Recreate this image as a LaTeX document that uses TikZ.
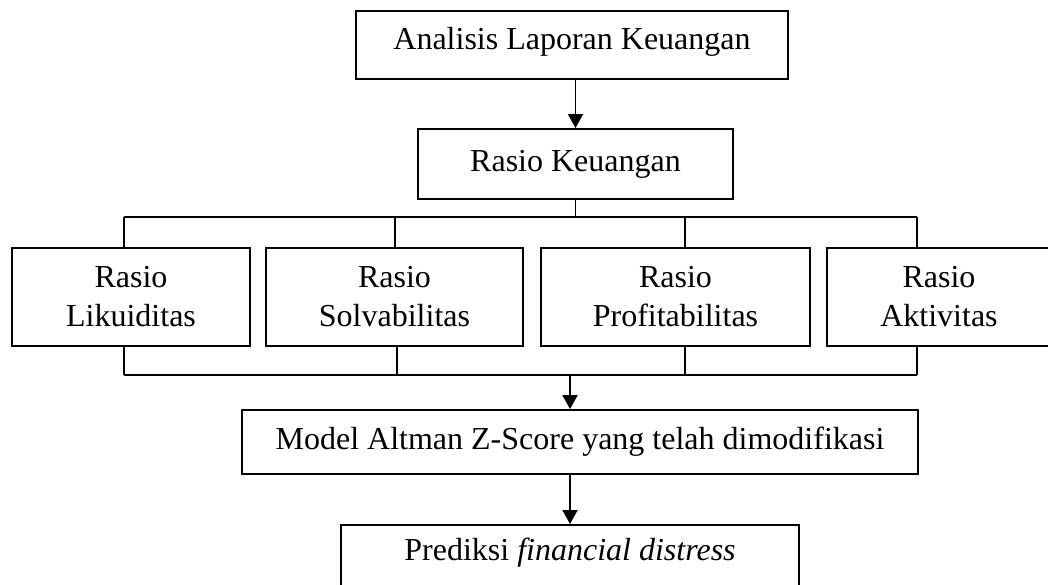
\documentclass[tikz,border=0pt]{standalone}
\usepackage{fontspec}
\setmainfont{Liberation Serif}
\usetikzlibrary{arrows.meta}
\begin{document}
\begin{tikzpicture}[x=1pt,y=-1pt,
  box/.style={draw, line width=1.9pt, inner sep=0pt, align=center,
    font=\fontsize{32}{39}\selectfont},
  conn/.style={line width=1.9pt},
  arr/.style={line width=1.9pt, -{Triangle[length=14pt,width=15pt]}},
  txt/.style={inner sep=0pt, font=\fontsize{32}{39}\selectfont}]
\useasboundingbox (0,0) rectangle (1048,585);
\node[box, minimum width=432pt, minimum height=68pt, text height=22pt, text depth=13pt] (alk) at (572,45) {Analisis Laporan Keuangan};
\node[box, minimum width=315pt, minimum height=70pt] (rk) at (575.5,164) {Rasio Keuangan};
\node[box, minimum width=238pt, minimum height=98pt] (lik) at (131,297) {Rasio\\Likuiditas};
\node[box, minimum width=257pt, minimum height=98pt] (sol) at (394.5,297) {Rasio\\Solvabilitas};
\node[box, minimum width=269pt, minimum height=98pt] (pro) at (675.5,297) {Rasio\\Profitabilitas};
\node[box, minimum width=224pt, minimum height=98pt] (akt) at (939,297) {Rasio\\Aktivitas};
\node[box, minimum width=676pt, minimum height=64pt] (mod) at (580,442) {Model Altman Z-Score yang telah dimodifikasi};
\node[box, minimum width=458pt, minimum height=80pt, anchor=north] (pred) at (570,524) {};
\node[txt] (predtxt) at (570,553) {Prediksi \textit{financial distress}};
% junctions
\coordinate (t1) at (124,217);
\coordinate (t2) at (395,217);
\coordinate (t3) at (685,217);
\coordinate (t4) at (917,217);
\coordinate (b1) at (124,375);
\coordinate (b2) at (397,375);
\coordinate (b3) at (685,375);
\coordinate (b4) at (917,375);
\coordinate (ba) at (570,375);
\draw[arr] (alk.south -| rk.south) -- (rk.north);
\draw[conn] (rk.south) -- (rk.south |- t1);
\draw[conn] (t1) -- (t4);
\draw[conn] (t1) -- (t1 |- lik.north);
\draw[conn] (t2) -- (t2 |- sol.north);
\draw[conn] (t3) -- (t3 |- pro.north);
\draw[conn] (t4) -- (t4 |- akt.north);
\draw[conn] (b1 |- lik.south) -- (b1);
\draw[conn] (b2 |- sol.south) -- (b2);
\draw[conn] (b3 |- pro.south) -- (b3);
\draw[conn] (b4 |- akt.south) -- (b4);
\draw[conn] (b1) -- (b4);
\draw[arr] (ba) -- (ba |- mod.north);
\draw[arr] (pred.north |- mod.south) -- (pred.north);
\end{tikzpicture}
\end{document}
